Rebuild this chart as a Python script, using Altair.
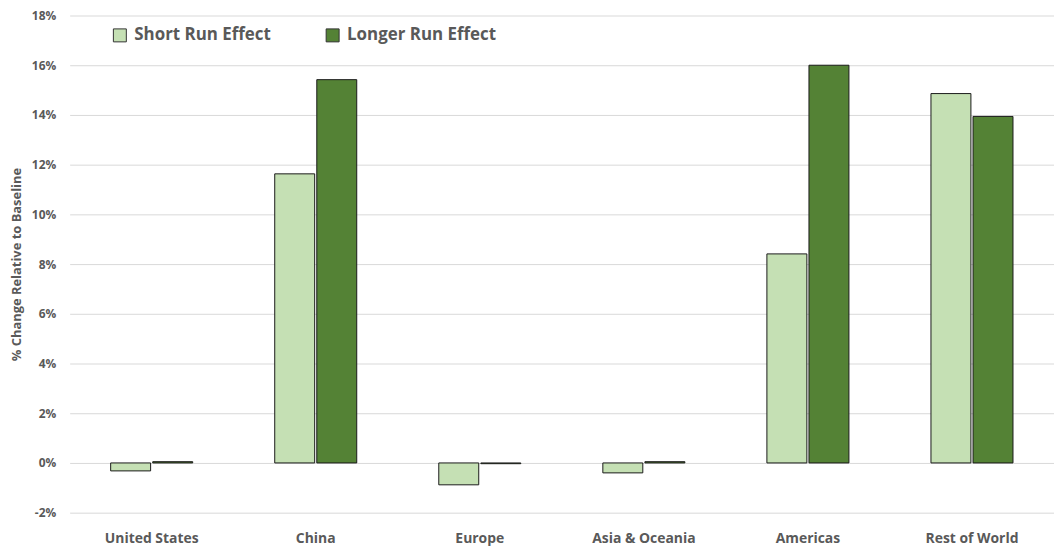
import altair as alt
import pandas as pd

regions = ["United States", "China", "Europe", "Asia & Oceania", "Americas", "Rest of World"]
short_run = [-0.32, 11.63, -0.88, -0.40, 8.41, 14.86]
longer_run = [0.05, 15.42, -0.03, 0.05, 16.0, 13.94]
series = ["Short Run Effect", "Longer Run Effect"]
colors = ["#C5E0B4", "#548235"]

rows = []
for r, s, l in zip(regions, short_run, longer_run):
    rows.append({"region": r, "series": series[0], "value": s / 100})
    rows.append({"region": r, "series": series[1], "value": l / 100})
df = pd.DataFrame(rows)

FONT = "Open Sans"
GRAY = "#595959"

chart = alt.Chart(df).mark_bar(stroke="#1a1a1a", strokeWidth=1).encode(
    x=alt.X("region:N", sort=regions,
            scale=alt.Scale(paddingInner=0.5, paddingOuter=0.25),
            axis=alt.Axis(title=None, labelAngle=0, labelFont=FONT, labelFontSize=14,
                          labelFontWeight="bold", labelColor=GRAY, labelPadding=19,
                          ticks=False, domain=False, grid=False)),
    xOffset=alt.XOffset("series:N", sort=series, scale=alt.Scale(paddingInner=0.05)),
    y=alt.Y("value:Q",
            scale=alt.Scale(domain=[-0.02, 0.18], nice=False),
            axis=alt.Axis(format=".0%", values=[i / 100 for i in range(-2, 19, 2)],
                          labelExpr="replace(datum.label, '\u2212', '-')",
                          title="% Change Relative to Baseline", titleFont=FONT,
                          titleFontSize=13, titleFontWeight="bold", titleColor=GRAY,
                          titleX=-53, titleY=250, titleAngle=-90, titleAlign="center",
                          titleBaseline="middle",
                          labelFont=FONT, labelFontSize=12, labelFontWeight="bold",
                          labelColor=GRAY, labelPadding=14, ticks=False, domain=False,
                          gridColor="#d9d9d9", gridWidth=1)),
    color=alt.Color("series:N", sort=series,
                    scale=alt.Scale(domain=series, range=colors),
                    legend=alt.Legend(title=None, orient="none", direction="horizontal",
                                      legendX=42, legendY=11, symbolType="square",
                                      symbolSize=170, symbolStrokeColor="#333333",
                                      symbolStrokeWidth=1, labelFont=FONT,
                                      labelFontSize=17, labelFontWeight="bold",
                                      labelColor=GRAY, columnPadding=52,
                                      labelOffset=6)),
).properties(
    width=990, height=500,
    autosize=alt.AutoSizeParams(type="none"),
    padding={"left": 62, "top": 6, "right": 0, "bottom": 36},
).configure_view(stroke=None)

chart.save("out.html", embed_options={"renderer": "svg", "actions": False})
